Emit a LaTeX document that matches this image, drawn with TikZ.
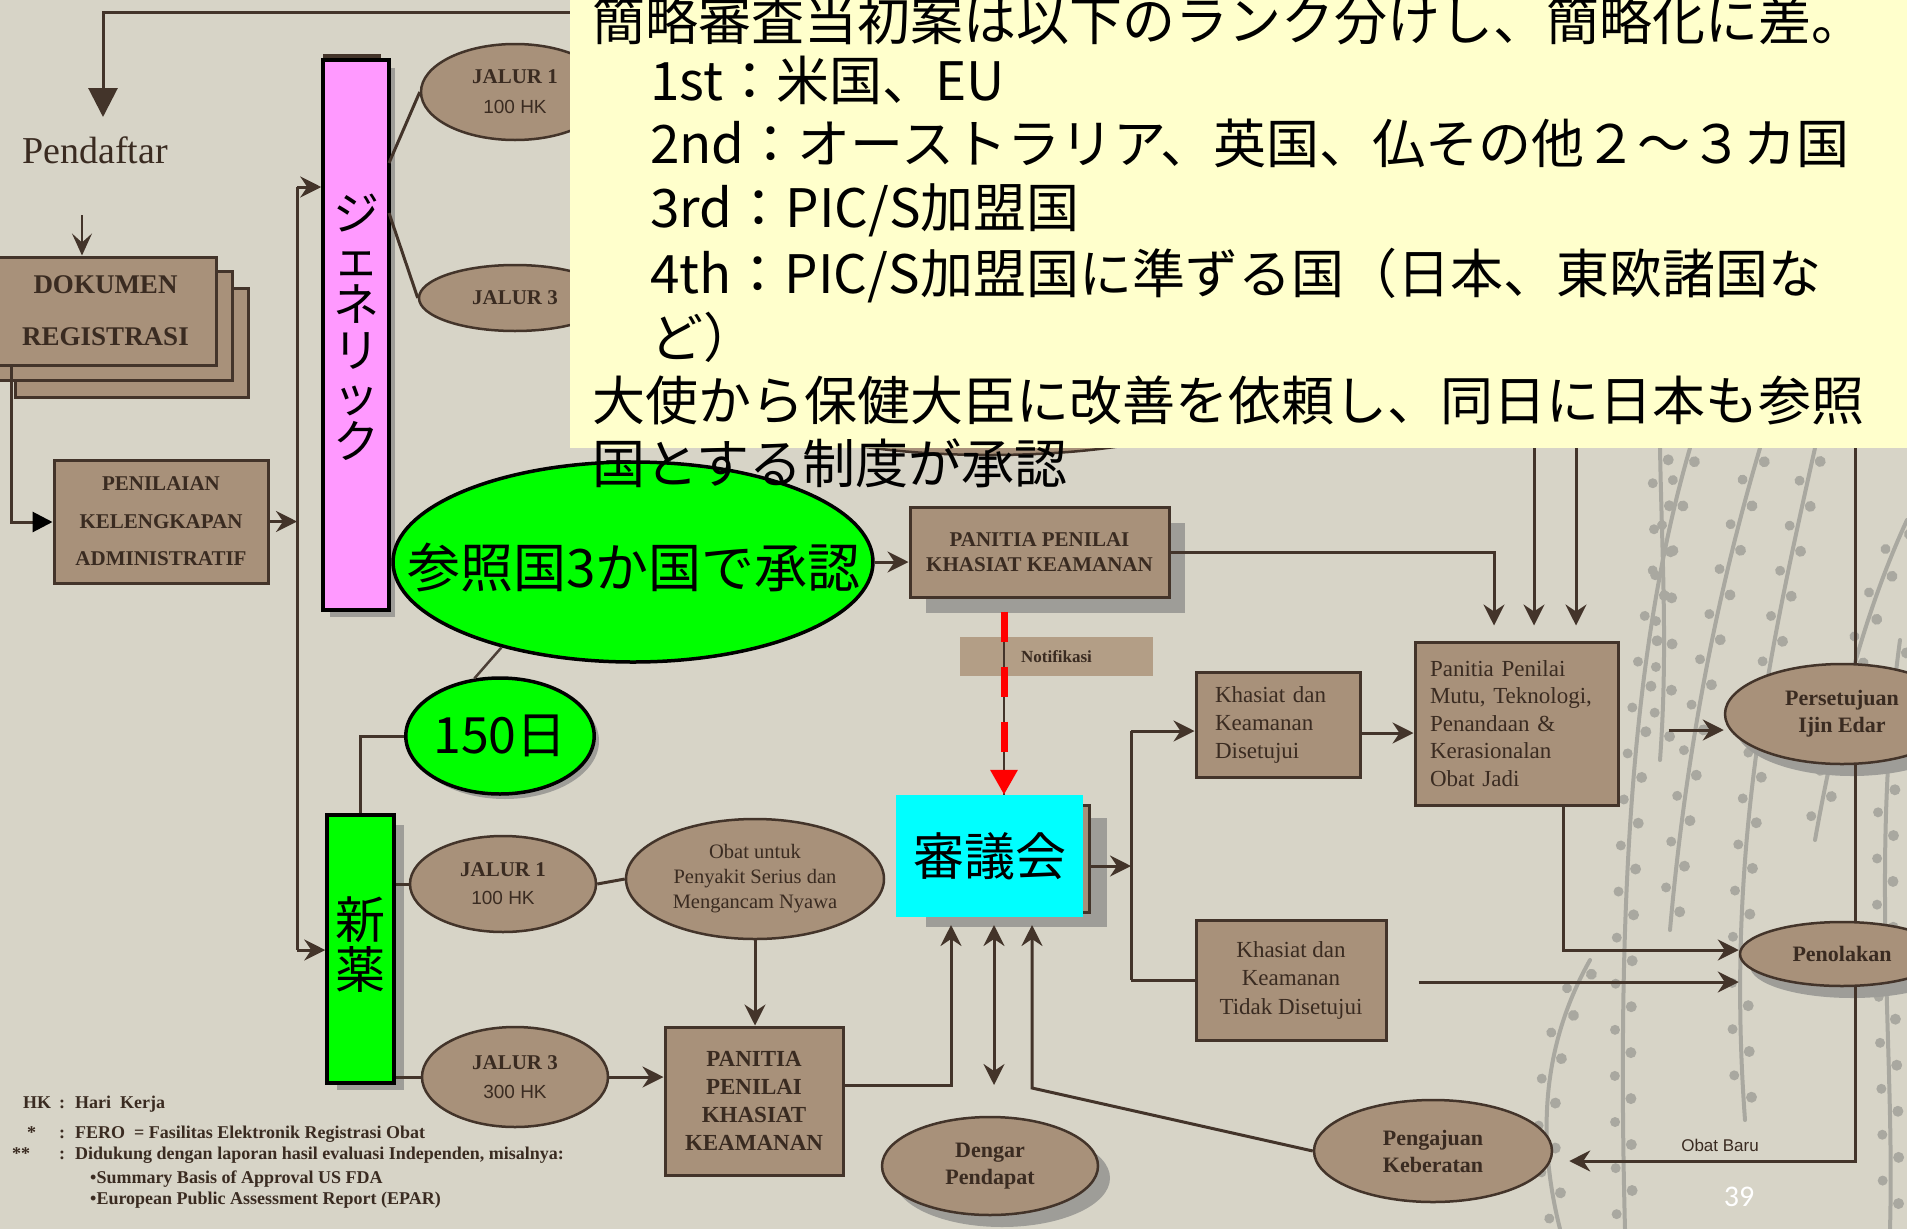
\documentclass[tikz,border=0pt]{standalone}
\usepackage{fontspec}
\setmainfont{Liberation Serif}
\newfontfamily\jpfont{Noto Sans CJK JP}
\newfontfamily\arialfont{Liberation Sans}
\newfontfamily\pagefont{Carlito}
\usetikzlibrary{shapes.geometric,arrows.meta,decorations.markings}
\newcommand\setfs[2]{\fontsize{#1}{#2}\selectfont}

\definecolor{bgc}{HTML}{D7D4C7}
\definecolor{bfill}{HTML}{A8917A}
\definecolor{bdark}{HTML}{43342A}
\definecolor{btext}{HTML}{3A2B21}
\definecolor{nfill}{HTML}{B39E86}
\definecolor{shadowc}{HTML}{9E9D98}
\definecolor{vinec}{HTML}{A9A8A0}
\definecolor{memoc}{HTML}{FFFFCC}
\definecolor{pinkc}{HTML}{FF99FF}
\definecolor{limec}{HTML}{00FF00}
\definecolor{cyanc}{HTML}{00FFFF}

\begin{document}
\begin{tikzpicture}[x=1pt,y=-1pt,
  link/.style={draw=bdark, line width=3pt},
  arr/.style={link, -{Stealth[length=21pt,width=21pt,inset=7pt]}},
  arrboth/.style={link, {Stealth[length=21pt,width=21pt,inset=7pt]}-{Stealth[length=21pt,width=21pt,inset=7pt]}},
  arrbig/.style={link, -{Triangle[length=29pt,width=29pt]}},
  arrblack/.style={link, -{Triangle[length=20pt,width=20pt,color=black]}},
  arrthin/.style={draw=bdark, line width=2pt, -{Stealth[length=22pt,width=20pt,inset=9pt]}},
  brownbox/.style={rectangle, draw=bdark, fill=bfill, line width=3pt, inner sep=0pt, text=btext, align=center},
  brownoval/.style={ellipse, draw=bdark, fill=bfill, line width=2.5pt, inner sep=0pt, text=btext, align=center},
  hot/.style={draw=black, line width=3.5pt, inner sep=0pt},
  memotext/.style={font=\jpfont\setfs{53}{64}, inner sep=0pt, anchor=base west, text=black},
  legend/.style={font=\bfseries\setfs{18}{20}, inner sep=0pt, anchor=base west, text=btext},
  vine/.style={draw=vinec, line width=4pt, line cap=round, postaction={decorate},
    decoration={markings,
      mark=between positions 12pt and -10pt step 46pt with {\fill[vinec] (0pt,8pt) circle (5.5pt);},
      mark=between positions 35pt and -10pt step 46pt with {\fill[vinec] (0pt,-8pt) circle (5pt);}}}
]
\useasboundingbox (0,0) rectangle (1907,1229);
\fill[bgc] (0,0) rectangle (1907,1229);

% background vines
\draw[vine] (1690,448) .. controls (1640,620) and (1615,850) .. (1625,1229);
\draw[vine] (1760,448) .. controls (1715,600) and (1685,760) .. (1670,930);
\draw[vine] (1815,448) .. controls (1770,650) and (1725,850) .. (1745,1120);
\draw[vine] (1907,520) .. controls (1870,600) and (1840,700) .. (1815,840);
\draw[vine] (1900,640) .. controls (1870,860) and (1895,1050) .. (1890,1229);
\draw[vine] (1590,960) .. controls (1545,1040) and (1535,1130) .. (1560,1229);
\draw[vine] (1660,448) .. controls (1662,560) and (1668,650) .. (1660,760);

% drop shadows
\fill[shadowc] (330,68) rectangle (395,617);
\fill[shadowc] (337,825) rectangle (404,1090);
\fill[shadowc] (926,523) rectangle (1185,613);
\fill[shadowc] (926,818) rectangle (1107,927);
\fill[shadowc] (1002,1178) ellipse [x radius=108, y radius=49];
\fill[shadowc] (1852,726) ellipse [x radius=117, y radius=50];
\fill[shadowc] (1852,966) ellipse [x radius=102, y radius=32];
\fill[shadowc] (505,741) ellipse [x radius=94, y radius=58];
\fill[bdark] (323,54) rectangle (381,64);

% partly covered oval at the top
\node[brownoval, minimum width=480pt, minimum height=110pt] (hid) at (990,400) {};

% left column
\node[font=\setfs{38}{44}, text=btext, inner sep=0pt] (pend) at (95,150) {Pendaftar};
\node[brownbox, minimum width=233pt, minimum height=109pt] (dok3) at (131.5,342.5) {};
\node[brownbox, minimum width=237pt, minimum height=109pt] (dok2) at (113.5,325.5) {};
\node[brownbox, minimum width=221pt, minimum height=108pt, font=\bfseries\setfs{27}{52}] (dok) at (105.5,311) {DOKUMEN\\REGISTRASI};
\node[brownbox, minimum width=214pt, minimum height=123pt, font=\bfseries\setfs{21}{37.5}] (pen) at (161,521.5) {PENILAIAN\\KELENGKAPAN\\ADMINISTRATIF};

% generic and new-drug branches
\node[hot, fill=pinkc, minimum width=66pt, minimum height=550pt] (gen) at (356,335) {};
\node[font=\jpfont\setfs{46}{45.6}, align=center, inner sep=0pt] (gentxt) at (356,327) {ジ\\ェ\\ネ\\リ\\ッ\\ク};
\node[hot, fill=limec, minimum width=67pt, minimum height=268pt] (xin) at (360.5,949) {};
\node[font=\jpfont\setfs{50}{50}, align=center, inner sep=0pt] (xintxt) at (360.5,945) {新\\薬};

\node[brownoval, minimum width=188pt, minimum height=96pt, font=\bfseries\setfs{21}{30}] (jalur1a) at (515,92) {JALUR 1\\{\mdseries\arialfont\setfs{19}{30}100 HK}};
\node[brownoval, minimum width=192pt, minimum height=66pt, font=\bfseries\setfs{21}{25}] (jalur3a) at (515,298) {JALUR 3};
\node[brownoval, minimum width=186pt, minimum height=96pt, font=\bfseries\setfs{21}{28}] (jalur1b) at (503,884) {JALUR 1\\{\mdseries\arialfont\setfs{19}{28}100 HK}};
\node[brownoval, minimum width=186pt, minimum height=100pt, font=\bfseries\setfs{21}{29}] (jalur3b) at (515,1077) {JALUR 3\\{\mdseries\arialfont\setfs{19}{29}300 HK}};
\node[brownoval, minimum width=258pt, minimum height=120pt, font=\setfs{20.5}{25}] (obat) at (755,879) {Obat untuk\\Penyakit Serius dan\\Mengancam Nyawa};

\node[hot, ellipse, fill=limec, minimum width=480pt, minimum height=200pt] (ref) at (633,562) {};
\node[font=\jpfont\setfs{53}{60}, inner sep=0pt] (reftxt) at (634,568) {参照国3か国で承認};
\node[hot, ellipse, fill=limec, minimum width=188pt, minimum height=116pt, font=\jpfont\setfs{50}{55}] (d150) at (500,736) {150日};

% committees
\node[brownbox, minimum width=259pt, minimum height=90pt, font=\bfseries\setfs{21}{25}] (pkk1) at (1039.5,552) {PANITIA PENILAI\\KHASIAT KEAMANAN};
\node[fill=nfill, inner sep=0pt, minimum width=193pt, minimum height=39pt, text=btext, font=\bfseries\setfs{17}{20}] (notif) at (1056.5,656.5) {Notifikasi};
\node[brownbox, minimum width=190pt, minimum height=107pt] (shb) at (994,858.5) {};
\node[fill=cyanc, inner sep=0pt, minimum width=187pt, minimum height=122pt, font=\jpfont\setfs{51}{55}] (shingi) at (989.5,856) {審議会};
\node[brownbox, minimum width=178pt, minimum height=148pt, font=\bfseries\setfs{23}{28}] (pkk2) at (754,1101) {PANITIA\\PENILAI\\KHASIAT\\KEAMANAN};
\node[brownbox, minimum width=164pt, minimum height=105pt, text width=126pt, align=left, font=\setfs{23}{28}] (kd) at (1278,724.5) {Khasiat dan\\Keamanan\\Disetujui};
\node[brownbox, minimum width=190pt, minimum height=120pt, font=\setfs{23}{28.5}] (ktd) at (1291,980) {Khasiat dan\\Keamanan\\Tidak Disetujui};
\node[brownbox, minimum width=203pt, minimum height=163pt, text width=173pt, align=left, font=\setfs{23}{27.5}] (mutu) at (1516.5,723.5) {Panitia Penilai\\Mutu, Teknologi,\\Penandaan \&\\Kerasionalan\\Obat Jadi};

% outcomes
\node[brownoval, minimum width=234pt, minimum height=100pt, font=\bfseries\setfs{22}{27}] (pers) at (1842,714) {Persetujuan\\Ijin Edar};
\node[brownoval, minimum width=204pt, minimum height=64pt, font=\bfseries\setfs{22}{26}] (peno) at (1842,954) {Penolakan};
\node[brownoval, minimum width=216pt, minimum height=98pt, font=\bfseries\setfs{22}{27}] (dengar) at (990,1166) {Dengar\\Pendapat};
\node[brownoval, minimum width=238pt, minimum height=102pt, font=\bfseries\setfs{22}{27}] (peng) at (1433,1151) {Pengajuan\\Keberatan};

% helper points
\coordinate (tl) at (103,12);
\coordinate (pin) at (103,117);
\coordinate (p1) at (82,215);
\coordinate (d1) at (11,365);
\coordinate (d2) at (11,522);
\coordinate (v1) at (297,187);
\coordinate (v2) at (297,950);
\coordinate (g1) at (389,163);
\coordinate (g2) at (389,213);
\coordinate (yb) at (0,1085);
\coordinate (s1) at (951,925);
\coordinate (s2) at (994,925);
\coordinate (s2b) at (994,1085);
\coordinate (s3) at (1032,925);
\coordinate (s3b) at (1032,1088);
\coordinate (k0) at (1131,866);
\coordinate (k1) at (1131,731);
\coordinate (k2) at (1131,980);
\coordinate (m0) at (0,733);
\coordinate (q1) at (0,730);
\coordinate (r1) at (1563,950);
\coordinate (r2) at (0,982);
\coordinate (o1) at (1855,1161);
\coordinate (u1) at (1494,0);
\coordinate (u2) at (1534,440);
\coordinate (u3) at (1576,440);
\coordinate (rd) at (1004,0);

% connectors
\draw[arrbig] (pers.north -| o1) -- (o1 |- tl) -- (tl) -- (pin);
\draw[link] (pers.south -| o1) -- (peno.north -| o1);
\draw[arr, shorten >=16pt] (peno.south -| o1) -- (o1) -- (peng.east |- o1);
\draw[arrthin] (p1) -- (p1 |- dok.north);
\draw[arrblack] (d1) -- (d2) -- (d2 -| pen.west);
\draw[link] (v1) -- (v2);
\draw[arr] (pen.east) -- (pen.east -| v1);
\draw[arr] (v1) -- (v1 -| gen.west);
\draw[arr] (v2) -- (v2 -| xin.west);
\draw[link] (g1) -- (jalur1a.west);
\draw[link] (g2) -- (jalur3a.west);
\draw[arr] (ref.east) -- (ref.east -| pkk1.west);
\draw[draw=bdark!85!gray, line width=2.5pt] (ref.213) -- (d150.114);
\draw[link] (d150.west) -| (xin.north);
\draw[link] (jalur1b.west -| xin.east) -- (jalur1b.west);
\draw[link] (jalur3b.west -| xin.east) -- (jalur3b.west);
\draw[link] (jalur1b.east) -- (obat.west);
\draw[arr] (obat.south) -- (obat.south |- pkk2.north);
\draw[arr] (jalur3b.east) -- (jalur3b.east -| pkk2.west);
\draw[arr] (pkk2.east |- yb) -| (s1);
\draw[arrboth] (s2) -- (s2b);
\draw[arr] (peng.west) -- (s3b) -- (s3);
\draw[arr] (shb.east |- k0) -- (k0);
\draw[link] (k1) -- (k2);
\draw[arr] (k1) -- (k1 -| kd.west);
\draw[link] (k2) -- (k2 -| ktd.west);
\draw[arr] (kd.east |- m0) -- (mutu.west |- m0);
\draw[arr, shorten <=49pt] (mutu.east |- q1) -- (pers.west |- q1);
\draw[arr] (mutu.south -| r1) -- (r1) -- (peno.west |- r1);
\draw[arr, shorten <=31pt] (ktd.east |- r2) -- (peno.west |- r2);
\draw[arr, shorten >=15pt] (pkk1.east) -| (mutu.north -| u1);
\draw[arr, shorten >=15pt] (u2) -- (mutu.north -| u2);
\draw[arr, shorten >=15pt] (u3) -- (mutu.north -| u3);

% notification path
\draw[draw=bdark, line width=2pt, shorten <=13pt] (pkk1.south -| rd) -- (shingi.north -| rd);
\draw[draw=red, line width=7pt, dash pattern=on 30pt off 25pt, shorten <=13pt,
      -{Triangle[length=25pt,width=26pt]}] (pkk1.south -| rd) -- (shingi.north -| rd);

\node[font=\arialfont\setfs{17}{20}, text=btext, inner sep=0pt] (obatbaru) at (1720,1145) {Obat Baru};

% legend
\node[legend] (lg1a) at (23,1108) {HK};
\node[legend] (lg1b) at (59,1108) {:};
\node[legend] (lg1c) at (75,1108) {Hari\ \ Kerja};
\node[legend] (lg2a) at (27,1138) {*};
\node[legend] (lg2b) at (59,1138) {:};
\node[legend] (lg2c) at (75,1138) {FERO\ \ = Fasilitas Elektronik Registrasi Obat};
\node[legend] (lg3a) at (12,1159) {**};
\node[legend] (lg3b) at (59,1159) {:};
\node[legend] (lg3c) at (75,1159) {Didukung dengan laporan hasil evaluasi Independen, misalnya:};
\node[legend] (lg4) at (90,1183) {•Summary Basis of Approval US FDA};
\node[legend] (lg5) at (90,1204) {•European Public Assessment Report (EPAR)};

% note box
\node[fill=memoc, inner sep=0pt, minimum width=1337pt, minimum height=448pt, anchor=north west] (memo) at (570,0) {};
\node[memotext] (n1) at (592,40) {簡略審査当初案は以下のランク分けし、簡略化に差。};
\node[memotext] (n2) at (650,100) {1st：米国、EU};
\node[memotext] (n3) at (650,163) {2nd：オーストラリア、英国、仏その他２～３カ国};
\node[memotext] (n4) at (650,227) {3rd：PIC/S加盟国};
\node[memotext] (n5) at (650,293) {4th：PIC/S加盟国に準ずる国（日本、東欧諸国な};
\node[memotext] (n6) at (650,357) {ど）};
\node[memotext] (n7) at (592,420) {大使から保健大臣に改善を依頼し、同日に日本も参照};
\node[memotext] (n8) at (592,483) {国とする制度が承認};

\node[font=\pagefont\setfs{30}{36}, text=white, inner sep=0pt] (pg) at (1739,1197) {39};
\end{tikzpicture}
\end{document}
